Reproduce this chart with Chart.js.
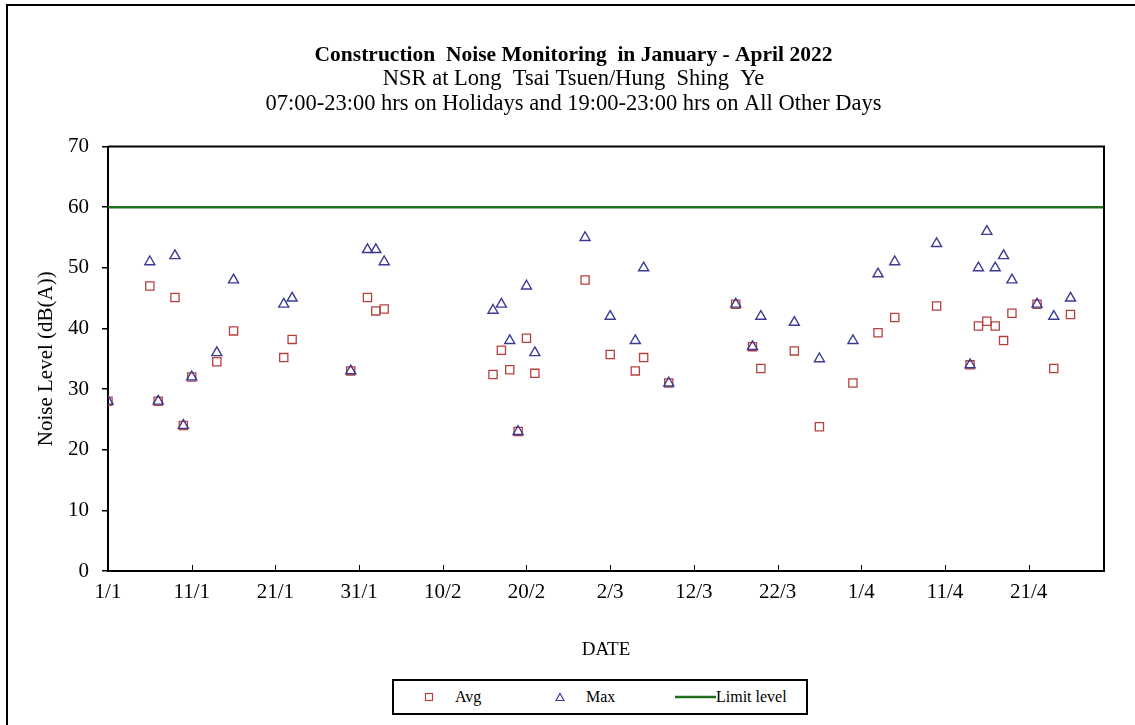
<!DOCTYPE html>
<html>
<head>
<meta charset="utf-8">
<script src="https://cdn.jsdelivr.net/npm/chart.js@4.4.0/dist/chart.umd.min.js"></script>
<style>
  html, body { margin: 0; padding: 0; background: #fff; overflow: hidden; }
  #wrap { position: relative; width: 1135px; height: 725px; overflow: hidden; }
  #frame { position: absolute; left: 6px; top: 4px; width: 1200px; height: 800px; border-top: 2px solid #000; border-left: 2px solid #000; }
  #chart { position: absolute; left: 0; top: 0; }
  #legend { position: absolute; left: 392px; top: 679px; width: 412px; height: 32px; border: 2px solid #000; background: #fff;
            font-family: 'Liberation Serif', 'Times New Roman', serif; font-size: 16px; color: #000; }
  #legend .icon { position: absolute; top: 11px; }
  #legend .txt { position: absolute; top: 0; line-height: 32px; white-space: nowrap; }
</style>
</head>
<body>
<div id="wrap">
  <div id="frame"></div>
  <canvas id="chart" width="1135" height="725"></canvas>
  <div id="legend">
    <svg class="icon" style="left:30px" width="10" height="10"><rect x="1.5" y="1.5" width="7" height="7" fill="none" stroke="#b8403c" stroke-width="1.2"/></svg>
    <span class="txt" style="left:61px">Avg</span>
    <svg class="icon" style="left:161px" width="10" height="10"><polygon points="5,1.5 9,8.5 1,8.5" fill="none" stroke="#3b3b96" stroke-width="1.2"/></svg>
    <span class="txt" style="left:192px">Max</span>
    <svg class="icon" style="left:281px" width="41" height="10"><line x1="0" y1="5" x2="41" y2="5" stroke="#1f6f1f" stroke-width="2.5"/></svg>
    <span class="txt" style="left:322px">Limit level</span>
  </div>
</div>
<script>
// monitoring days (d/m, 2022)
const dates = ['1/1', '6/1', '7/1', '9/1', '10/1', '11/1', '14/1', '16/1', '22/1', '23/1', '30/1',
  '1/2', '2/2', '3/2', '16/2', '17/2', '18/2', '19/2', '20/2', '21/2', '27/2',
  '2/3', '5/3', '6/3', '9/3', '17/3', '19/3', '20/3', '24/3', '27/3', '31/3',
  '3/4', '5/4', '10/4', '14/4', '15/4', '16/4', '17/4', '18/4', '19/4', '22/4', '24/4', '26/4'];
const avgLevel = [28, 47, 28, 45.1, 24, 32, 34.5, 39.6, 35.2, 38.2, 33,
  45.1, 42.9, 43.2, 32.4, 36.4, 33.2, 23, 38.4, 32.6, 48,
  35.7, 33, 35.2, 31, 44, 37, 33.4, 36.3, 23.8, 31,
  39.3, 41.8, 43.7, 34, 40.4, 41.2, 40.4, 38, 42.5, 44, 33.4, 42.3];
const maxLevel = [28, 51, 28, 52, 24, 32, 36, 48, 44, 45, 33,
  53, 53, 51, 43, 44, 38, 23, 47, 36, 55,
  42, 38, 50, 31, 44, 37, 42, 41, 35, 38,
  49, 51, 54, 34, 50, 56, 50, 52, 48, 44, 42, 45];
const limitLevel = 60;

const tickDates = ['1/1', '11/1', '21/1', '31/1', '10/2', '20/2', '2/3', '12/3', '22/3', '1/4', '11/4', '21/4'];
const axisEnd = '30/4';

const serif = "'Liberation Serif', 'Times New Roman', serif";

function dayNo(s) {
  const [d, m] = s.split('/').map(Number);
  return (Date.UTC(2022, m - 1, d) - Date.UTC(2022, 0, 1)) / 86400000;
}

const days = dates.map(dayNo);
const tickDays = tickDates.map(dayNo);
const xMax = dayNo(axisEnd);

// top/right border of the plot and the small inward ticks on the x axis
const plotFrame = {
  id: 'plotFrame',
  afterDraw(chart) {
    const { ctx, chartArea: a, scales: { x } } = chart;
    ctx.save();
    ctx.strokeStyle = '#000';
    ctx.lineWidth = 2;
    ctx.beginPath();
    ctx.moveTo(a.left, a.top);
    ctx.lineTo(a.right, a.top);
    ctx.lineTo(a.right, a.bottom);
    ctx.stroke();
    ctx.lineWidth = 1;
    ctx.beginPath();
    tickDays.forEach(d => {
      if (d === 0) return;
      const px = Math.round(x.getPixelForValue(d)) + 0.5;
      ctx.moveTo(px, a.bottom);
      ctx.lineTo(px, a.bottom - 6);
    });
    ctx.stroke();
    ctx.restore();
  }
};

new Chart(document.getElementById('chart'), {
  type: 'scatter',
  data: {
    datasets: [
      {
        label: 'Max',
        data: days.map((x, i) => ({ x, y: maxLevel[i] })),
        pointStyle: 'triangle',
        pointRadius: 5.8,
        borderColor: '#3b3b96',
        backgroundColor: 'rgba(0,0,0,0)',
        borderWidth: 1.4
      },
      {
        label: 'Avg',
        data: days.map((x, i) => ({ x, y: avgLevel[i] })),
        pointStyle: 'rect',
        pointRadius: 5.8,
        borderColor: '#b8403c',
        backgroundColor: 'rgba(0,0,0,0)',
        borderWidth: 1.3
      },
      {
        label: 'Limit level',
        type: 'line',
        data: [{ x: 0, y: limitLevel }, { x: xMax, y: limitLevel }],
        borderColor: '#1f6f1f',
        borderWidth: 2.5,
        pointRadius: 0,
        fill: false
      }
    ]
  },
  options: {
    responsive: false,
    animation: false,
    layout: { padding: { left: 43, right: 31, top: 0, bottom: 0 } },
    plugins: {
      legend: { display: false },
      tooltip: { enabled: false },
      title: {
        display: true,
        text: 'Construction  Noise Monitoring  in January - April 2022',
        color: '#000',
        font: { family: serif, size: 21.5, weight: 'bold', lineHeight: 1.12 },
        padding: { top: 43, bottom: 0 }
      },
      subtitle: {
        display: true,
        text: ['NSR at Long  Tsai Tsuen/Hung  Shing  Ye',
               '07:00-23:00 hrs on Holidays and 19:00-23:00 hrs on All Other Days'],
        color: '#000',
        font: { family: serif, size: 22.5, lineHeight: 1.1 },
        padding: { top: 0, bottom: 30 }
      }
    },
    scales: {
      x: {
        type: 'linear',
        min: 0,
        max: xMax,
        afterBuildTicks: s => { s.ticks = tickDays.map(v => ({ value: v })); },
        afterFit: s => { s.height = 154; },
        ticks: {
          callback: (v, i) => tickDates[i],
          autoSkip: false,
          maxRotation: 0,
          padding: 9,
          color: '#000',
          font: { family: serif, size: 21 }
        },
        grid: { drawOnChartArea: false, drawTicks: false },
        border: { color: '#000', width: 2 },
        title: {
          display: true,
          text: 'DATE',
          color: '#000',
          font: { family: serif, size: 19 },
          padding: { top: 0, bottom: 64 }
        }
      },
      y: {
        min: 0,
        max: 70,
        afterFit: s => { s.width = 65; },
        ticks: {
          stepSize: 10,
          padding: 13,
          color: '#000',
          font: { family: serif, size: 21 }
        },
        grid: { drawOnChartArea: false, tickLength: 6, color: '#000', lineWidth: 1.5 },
        border: { color: '#000', width: 2 },
        title: {
          display: true,
          text: 'Noise Level (dB(A))',
          color: '#000',
          font: { family: serif, size: 21 },
          padding: { top: -9, bottom: 0 }
        }
      }
    }
  },
  plugins: [plotFrame]
});
</script>
</body>
</html>
